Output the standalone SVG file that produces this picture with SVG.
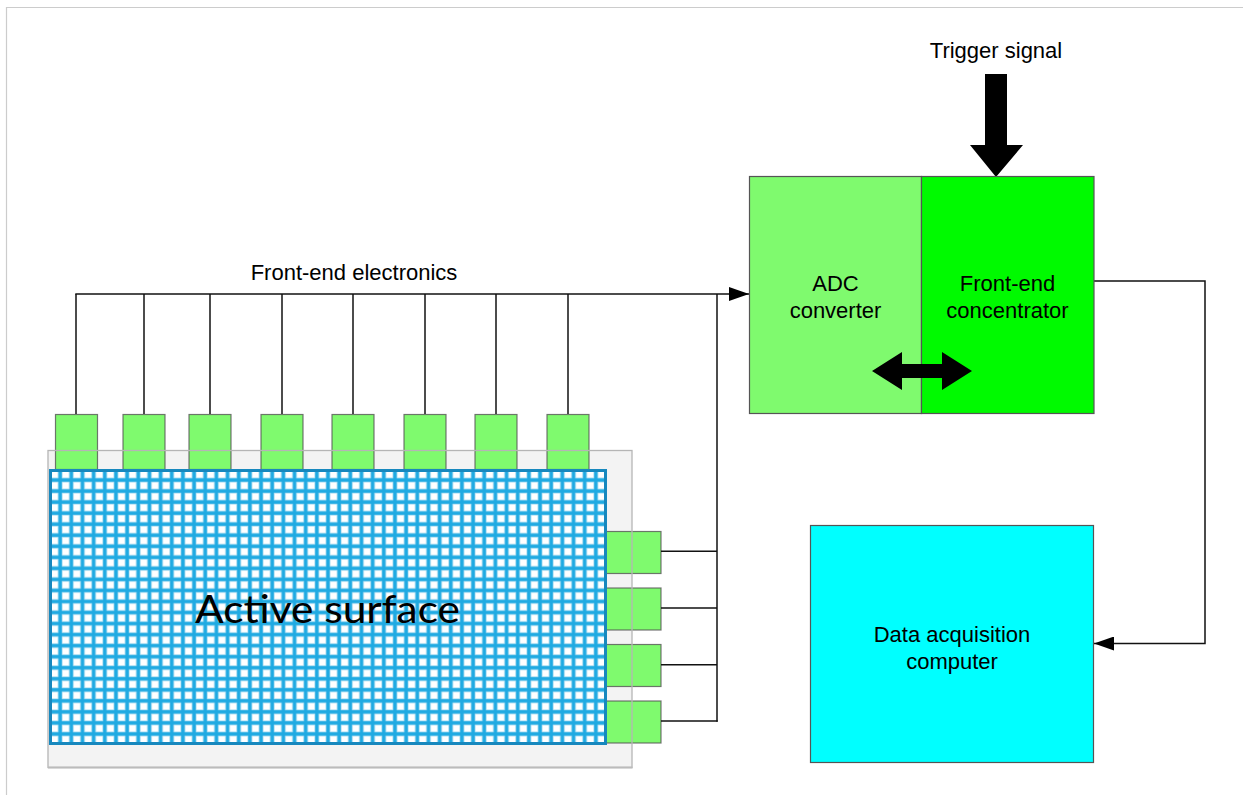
<svg xmlns="http://www.w3.org/2000/svg" width="1243" height="795" viewBox="0 0 1243 795">
  <style>
    .lbl { font-family: "Liberation Sans", Arial, sans-serif; font-size: 22px; fill: #000; text-anchor: middle; }
    .big { font-family: Lato, "Noto Sans", "DejaVu Sans", sans-serif; font-size: 39px; fill: #000; }
    .conn { fill: none; stroke: #111; stroke-width: 1.5; }
    .pad { fill: #7FFA6E; stroke: #555; stroke-width: 1.2; stroke-opacity: 0.8; }
    .blk { fill: #000; }
  </style>
  <defs>
    <marker id="arr" viewBox="0 0 20 14" refX="20" refY="7" markerWidth="20" markerHeight="14" markerUnits="userSpaceOnUse" orient="auto">
      <path d="M0,0 L20,7 L0,14 Z" fill="#000"/>
    </marker>
    <pattern id="grid" x="49" y="469" width="11.16" height="11.04" patternUnits="userSpaceOnUse">
      <rect width="11.16" height="11.04" fill="#ffffff"/>
      <rect x="0" y="0" width="2.4" height="11.04" fill="#A6DBF1"/>
      <rect x="0" y="0" width="11.16" height="2.4" fill="#A6DBF1"/>
      <rect x="8.76" y="0" width="2.4" height="11.04" fill="#A6DBF1"/>
      <rect x="0" y="8.64" width="11.16" height="2.4" fill="#A6DBF1"/>
      <rect x="0" y="0" width="1.6" height="11.04" fill="#1FAAE2"/>
      <rect x="0" y="0" width="11.16" height="1.6" fill="#1FAAE2"/>
      <rect x="9.56" y="0" width="1.6" height="11.04" fill="#1FAAE2"/>
      <rect x="0" y="9.44" width="11.16" height="1.6" fill="#1FAAE2"/>
    </pattern>
  </defs>

  <rect width="1243" height="795" fill="#ffffff"/>
  <!-- page edge -->
  <path d="M6.5,795 L6.5,7.5 L1243,7.5" fill="none" stroke="#cccccc" stroke-width="1.2"/>

  <!-- substrate -->
  <g id="substrate">
    <rect x="48" y="450.5" width="584" height="317" fill="#f3f3f3"/>
  </g>

  <!-- front-end pads -->
  <g id="pads-top">
    <rect class="pad" x="55.5" y="414.5" width="42" height="55"/>
    <rect class="pad" x="123" y="414.5" width="42" height="55"/>
    <rect class="pad" x="189" y="414.5" width="42" height="55"/>
    <rect class="pad" x="261" y="414.5" width="42" height="55"/>
    <rect class="pad" x="332" y="414.5" width="42" height="55"/>
    <rect class="pad" x="404" y="414.5" width="42" height="55"/>
    <rect class="pad" x="475" y="414.5" width="42" height="55"/>
    <rect class="pad" x="547" y="414.5" width="42" height="55"/>
  </g>
  <g id="pads-right">
    <rect class="pad" x="604" y="531.5" width="57" height="42"/>
    <rect class="pad" x="604" y="588" width="57" height="42"/>
    <rect class="pad" x="604" y="644.5" width="57" height="42"/>
    <rect class="pad" x="604" y="701" width="57" height="42"/>
  </g>

  <!-- substrate outline on top -->
  <rect x="48" y="450.5" width="584" height="317" fill="none" stroke="#b5b5b5" stroke-width="1.3"/>
  <line x1="48" y1="767.5" x2="632.5" y2="767.5" stroke="#bbbbbb" stroke-width="2"/>

  <!-- active surface -->
  <g id="active-surface">
    <rect x="50.5" y="470.5" width="555" height="273" fill="url(#grid)" stroke="#1788BE" stroke-width="3"/>
    <text class="big" x="195" y="623" textLength="265" lengthAdjust="spacingAndGlyphs">Active surface</text>
  </g>

  <!-- connectors -->
  <g id="connectors">
    <line class="conn" x1="76" y1="414" x2="76" y2="294"/>
    <line class="conn" x1="144" y1="414" x2="144" y2="294"/>
    <line class="conn" x1="210" y1="414" x2="210" y2="294"/>
    <line class="conn" x1="282" y1="414" x2="282" y2="294"/>
    <line class="conn" x1="353" y1="414" x2="353" y2="294"/>
    <line class="conn" x1="425" y1="414" x2="425" y2="294"/>
    <line class="conn" x1="496" y1="414" x2="496" y2="294"/>
    <line class="conn" x1="568" y1="414" x2="568" y2="294"/>
    <path class="conn" d="M75.3,294 L749,294" marker-end="url(#arr)"/>
    <line class="conn" x1="717" y1="294" x2="717" y2="721.7"/>
    <line class="conn" x1="661" y1="551.3" x2="717" y2="551.3"/>
    <line class="conn" x1="661" y1="608" x2="717" y2="608"/>
    <line class="conn" x1="661" y1="664.7" x2="717" y2="664.7"/>
    <line class="conn" x1="661" y1="721" x2="717.7" y2="721"/>
    <path class="conn" d="M1094,281 L1205,281 L1205,643.5 L1094,643.5" marker-end="url(#arr)"/>
    <polygon class="blk" points="985,74 1007,74 1007,145 1023,145 996,177 970,145 985,145"/>
  </g>

  <!-- ADC converter -->
  <g id="adc">
    <rect x="749.5" y="176.5" width="172" height="237" fill="#7FFA6E" stroke="#555" stroke-width="1.2"/>
    <text class="lbl" x="835.5" y="291">ADC</text>
    <text class="lbl" x="835.5" y="318">converter</text>
  </g>

  <!-- Front-end concentrator -->
  <g id="concentrator">
    <rect x="921.5" y="176.5" width="172.5" height="237" fill="#00FA00" stroke="#555" stroke-width="1.2"/>
    <text class="lbl" x="1007.5" y="291">Front-end</text>
    <text class="lbl" x="1007.5" y="318">concentrator</text>
  </g>

  <polygon class="blk" points="872,371 902,352 902,364 942,364 942,352 972,371 942,390 942,378 902,378 902,390"/>

  <!-- Data acquisition computer -->
  <g id="daq">
    <rect x="810.5" y="525.5" width="283" height="237" fill="#00FFFF" stroke="#555" stroke-width="1.2"/>
    <text class="lbl" x="952" y="642">Data acquisition</text>
    <text class="lbl" x="952" y="669">computer</text>
  </g>

  <text class="lbl" x="354" y="280">Front-end electronics</text>
  <text class="lbl" x="996" y="58">Trigger signal</text>
</svg>
